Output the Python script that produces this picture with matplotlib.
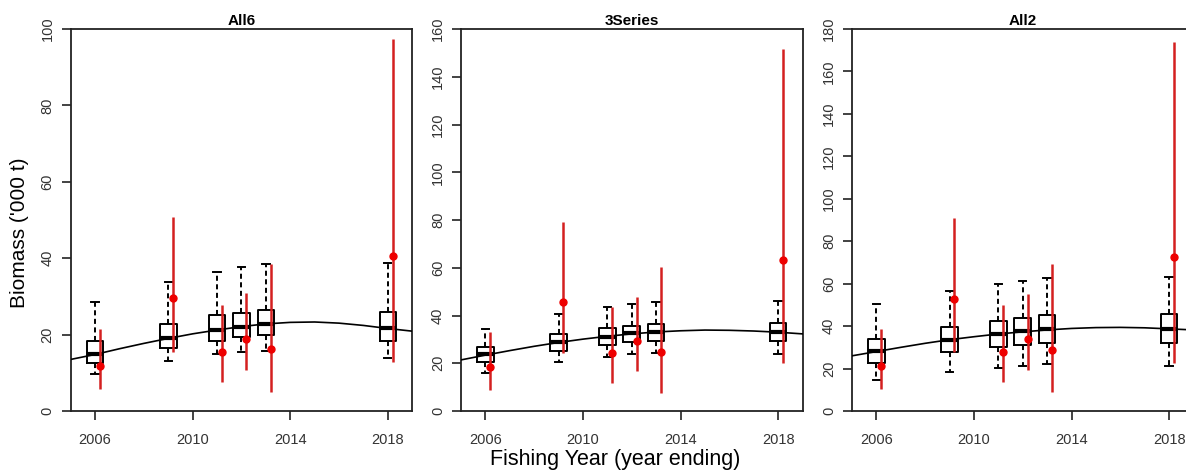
import matplotlib
matplotlib.use("Agg")
import matplotlib.pyplot as plt
import numpy as np

plt.rcParams["font.family"] = ["Liberation Sans", "DejaVu Sans"]

# Survey years (boxplots) and the offset years for the point estimates
years = [2006, 2009, 2011, 2012, 2013, 2018]
obs_offset = 0.2
curve_years = list(range(2005, 2020))

# --- All6 ---
all6_whislo = [9.7, 13.2, 14.8, 15.4, 15.7, 14.0]
all6_q1 = [12.5, 16.6, 18.4, 19.3, 19.9, 18.4]
all6_med = [14.8, 19.0, 21.2, 22.1, 22.9, 21.6]
all6_q3 = [18.3, 22.9, 25.1, 25.7, 26.4, 26.0]
all6_whishi = [28.5, 33.8, 36.3, 37.6, 38.6, 38.8]
all6_obs = [11.8, 29.5, 15.5, 18.9, 16.1, 40.5]
all6_lo = [5.7, 15.5, 7.7, 10.7, 5.0, 12.9]
all6_hi = [21.4, 50.8, 27.7, 30.8, 38.4, 97.4]
all6_curve = [13.5, 14.8, 16.3, 17.7, 19.0, 20.2, 21.2, 22.1, 22.8, 23.2,
              23.3, 23.0, 22.4, 21.6, 20.9]

# --- 3Series ---
s3_whislo = [16.1, 20.7, 22.8, 23.7, 24.2, 23.7]
s3_q1 = [20.4, 25.1, 27.6, 28.8, 29.5, 29.3]
s3_med = [23.7, 28.8, 31.1, 32.5, 33.2, 33.2]
s3_q3 = [26.7, 32.1, 34.6, 35.6, 36.6, 36.7]
s3_whishi = [34.3, 40.6, 43.7, 44.8, 45.7, 46.2]
s3_obs = [18.6, 45.8, 24.2, 29.5, 24.9, 63.2]
s3_lo = [8.8, 24.2, 11.9, 16.9, 7.7, 20.0]
s3_hi = [33.2, 79.3, 43.4, 47.9, 60.2, 151.6]
s3_curve = [21.4, 23.4, 25.3, 27.1, 28.7, 30.1, 31.3, 32.3, 33.1, 33.6,
            33.9, 33.8, 33.5, 33.0, 32.3]

# --- All2 ---
all2_whislo = [14.6, 18.5, 20.4, 21.4, 22.1, 21.2]
all2_q1 = [22.5, 27.6, 30.0, 31.1, 31.9, 31.9]
all2_med = [28.4, 33.5, 36.1, 37.7, 38.5, 38.5]
all2_q3 = [34.1, 39.7, 42.6, 43.7, 45.1, 45.5]
all2_whishi = [50.3, 56.7, 59.8, 61.3, 62.7, 63.1]
all2_obs = [21.2, 52.8, 27.6, 33.9, 28.7, 72.4]
all2_lo = [10.2, 28.0, 13.8, 19.3, 9.1, 22.8]
all2_hi = [38.5, 91.1, 49.9, 55.1, 69.1, 174.0]
all2_curve = [26.0, 28.0, 30.0, 31.9, 33.6, 35.0, 36.3, 37.3, 38.2, 38.9,
              39.3, 39.4, 39.2, 38.7, 38.2]

panels = [
    ("All6", 100, all6_whislo, all6_q1, all6_med, all6_q3, all6_whishi,
     all6_obs, all6_lo, all6_hi, all6_curve),
    ("3Series", 160, s3_whislo, s3_q1, s3_med, s3_q3, s3_whishi,
     s3_obs, s3_lo, s3_hi, s3_curve),
    ("All2", 180, all2_whislo, all2_q1, all2_med, all2_q3, all2_whishi,
     all2_obs, all2_lo, all2_hi, all2_curve),
]

W, H = 1186, 470
fig = plt.figure(figsize=(W / 100, H / 100), dpi=100)

lefts = [70.7, 461, 852]
ax_w = 341.5
top_px, bot_px = 29, 411

tick_col = "#333333"

for left, (title, ymax, wlo, q1, med, q3, whi, obs, lo, hi, curve) in zip(lefts, panels):
    ax = fig.add_axes([left / W, 1 - bot_px / H, ax_w / W, (bot_px - top_px) / H])

    stats = [dict(whislo=a, q1=b, med=c, q3=d, whishi=e)
             for a, b, c, d, e in zip(wlo, q1, med, q3, whi)]
    ax.bxp(stats, positions=years, widths=0.68, capwidths=0.3,
           showfliers=False, manage_ticks=False,
           boxprops=dict(color="black", lw=1.4),
           medianprops=dict(color="black", lw=3, solid_capstyle="butt"),
           whiskerprops=dict(color="black", lw=1.4, ls=(0, (2.6, 1.8))),
           capprops=dict(color="black", lw=1.4))

    ax.plot(curve_years, curve, color="black", lw=1.2, zorder=3)

    # point estimates with their intervals, nudged right of the boxes
    obs_x = [y + obs_offset for y in years]
    ax.vlines(obs_x, lo, hi, color="#d42020", lw=1.8, zorder=4)
    ax.plot(obs_x, obs, "o", color="#ee0000", ms=5, zorder=5)

    ax.set_xlim(2005, 2019)
    ax.set_ylim(0, ymax)
    ax.set_xticks([2006, 2010, 2014, 2018])
    ax.set_yticks(np.arange(0, ymax + 1, 20))
    ax.tick_params(axis="both", length=6.5, width=1.2, color="#222222",
                   labelsize=10.5, labelcolor=tick_col)
    ax.tick_params(axis="y", pad=5)
    ax.tick_params(axis="x", pad=9)
    for lab in ax.get_yticklabels():
        lab.set_rotation(90)
        lab.set_va("center")
    for sp in ax.spines.values():
        sp.set_linewidth(1.3)
        sp.set_color("#222222")
    ax.set_title(title, fontsize=11, fontweight="bold", pad=3)

fig.text(20 / W, 1 - 233 / H, "Biomass ('000 t)", rotation=90,
         ha="center", va="center", fontsize=15)
fig.text(615 / W, 1 - 460 / H, "Fishing Year (year ending)",
         ha="center", va="center", fontsize=15.5)

fig.savefig("out.png", dpi=100)
